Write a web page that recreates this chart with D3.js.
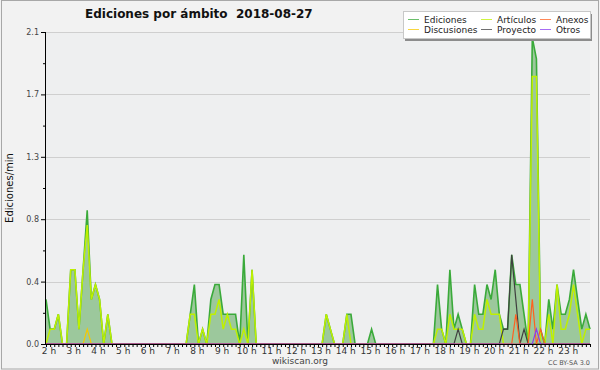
<!DOCTYPE html>
<html>
<head>
<meta charset="utf-8">
<script src="https://cdn.jsdelivr.net/npm/d3@7"></script>
<style>
  body { margin: 0; background: #f2f2f2; }
  svg { display: block; font-family: "DejaVu Sans", Verdana, sans-serif; }
</style>
</head>
<body>
<div id="chart"></div>
<script>
// one point every 10 minutes, from 2 h to 24 h
var startHour = 2, endHour = 24, stepsPerHour = 6;

var hourLabels = ["2 h","3 h","4 h","5 h","6 h","7 h","8 h","9 h","10 h","11 h","12 h",
  "13 h","14 h","15 h","16 h","17 h","18 h","19 h","20 h","21 h","22 h","23 h"];

var yTicks = [0, 0.42, 0.84, 1.26, 1.68, 2.1];

// ediciones / min, one row per hour
var ediciones = [
  0.3, 0.1, 0.1, 0.2, 0, 0,
  0.5, 0.5, 0.1, 0.5, 0.9, 0.3,
  0.4, 0.3, 0, 0.2, 0, 0,
  0, 0, 0, 0, 0, 0,
  0, 0, 0, 0, 0, 0,
  0, 0, 0, 0, 0, 0.2,
  0.4, 0, 0.1, 0, 0.3, 0.4,
  0.4, 0.2, 0.2, 0.2, 0.2, 0,
  0.6, 0, 0.5, 0, 0, 0,
  0, 0, 0, 0, 0, 0,
  0, 0, 0, 0, 0, 0,
  0, 0, 0.2, 0.1, 0, 0,
  0, 0.2, 0.2, 0, 0, 0,
  0, 0.1, 0, 0, 0, 0,
  0, 0, 0, 0, 0, 0,
  0, 0, 0, 0, 0, 0.4,
  0.1, 0, 0.5, 0.1, 0.2, 0.1,
  0, 0, 0.4, 0.2, 0.2, 0.4,
  0.3, 0.5, 0.2, 0.1, 0.1, 0.6,
  0.4, 0.4, 0.2, 0, 2.06, 1.92,
  0.1, 0, 0.3, 0.1, 0.4, 0.2,
  0.2, 0.3, 0.5, 0.3, 0.1, 0.2,
  0.1
];

var articulos = [
  0, 0.1, 0.1, 0.2, 0, 0,
  0.5, 0.5, 0.1, 0.5, 0.8, 0.3,
  0.4, 0.3, 0, 0.2, 0, 0,
  0, 0, 0, 0, 0, 0,
  0, 0, 0, 0, 0, 0,
  0, 0, 0, 0, 0, 0.2,
  0.2, 0, 0.1, 0, 0.2, 0.2,
  0.3, 0.1, 0.2, 0.1, 0.1, 0,
  0.1, 0, 0.5, 0, 0, 0,
  0, 0, 0, 0, 0, 0,
  0, 0, 0, 0, 0, 0,
  0, 0, 0.2, 0.1, 0, 0,
  0, 0.2, 0, 0, 0, 0,
  0, 0, 0, 0, 0, 0,
  0, 0, 0, 0, 0, 0,
  0, 0, 0, 0, 0, 0.1,
  0.1, 0, 0.2, 0.1, 0.1, 0.1,
  0, 0, 0.2, 0.1, 0.1, 0.3,
  0.2, 0.2, 0.2, 0, 0, 0,
  0, 0, 0, 0, 1.8, 1.8,
  0, 0, 0.2, 0, 0.4, 0.1,
  0.1, 0.2, 0.4, 0.2, 0, 0.1,
  0.1
];

var discusiones = [
  0, 0, 0, 0, 0, 0,
  0, 0, 0, 0, 0.1, 0,
  0, 0, 0, 0, 0, 0,
  0, 0, 0, 0, 0, 0,
  0, 0, 0, 0, 0, 0,
  0, 0, 0, 0, 0, 0,
  0, 0, 0, 0, 0, 0,
  0, 0, 0, 0, 0, 0,
  0, 0, 0, 0, 0, 0,
  0, 0, 0, 0, 0, 0,
  0, 0, 0, 0, 0, 0,
  0, 0, 0, 0, 0, 0,
  0, 0, 0, 0, 0, 0,
  0, 0, 0, 0, 0, 0,
  0, 0, 0, 0, 0, 0,
  0, 0, 0, 0, 0, 0,
  0, 0, 0, 0, 0, 0,
  0, 0, 0, 0, 0, 0,
  0, 0, 0, 0, 0, 0,
  0, 0, 0, 0, 0, 0,
  0, 0, 0, 0, 0, 0,
  0, 0, 0, 0, 0, 0,
  0
];

var anexos = [
  0, 0, 0, 0, 0, 0,
  0, 0, 0, 0, 0, 0,
  0, 0, 0, 0, 0, 0,
  0, 0, 0, 0, 0, 0,
  0, 0, 0, 0, 0, 0,
  0, 0, 0, 0, 0, 0,
  0, 0, 0, 0, 0, 0,
  0, 0, 0, 0, 0, 0,
  0, 0, 0, 0, 0, 0,
  0, 0, 0, 0, 0, 0,
  0, 0, 0, 0, 0, 0,
  0, 0, 0, 0, 0, 0,
  0, 0, 0, 0, 0, 0,
  0, 0, 0, 0, 0, 0,
  0, 0, 0, 0, 0, 0,
  0, 0, 0, 0, 0, 0,
  0, 0, 0, 0, 0, 0,
  0, 0, 0, 0, 0, 0,
  0, 0, 0, 0, 0, 0,
  0.2, 0, 0, 0, 0.3, 0,
  0.1, 0, 0, 0, 0, 0,
  0, 0, 0, 0, 0, 0,
  0
];

var proyecto = [
  0, 0, 0, 0, 0, 0,
  0, 0, 0, 0, 0, 0,
  0, 0, 0, 0, 0, 0,
  0, 0, 0, 0, 0, 0,
  0, 0, 0, 0, 0, 0,
  0, 0, 0, 0, 0, 0,
  0, 0, 0, 0, 0, 0,
  0, 0, 0, 0, 0, 0,
  0, 0, 0, 0, 0, 0,
  0, 0, 0, 0, 0, 0,
  0, 0, 0, 0, 0, 0,
  0, 0, 0, 0, 0, 0,
  0, 0, 0, 0, 0, 0,
  0, 0, 0, 0, 0, 0,
  0, 0, 0, 0, 0, 0,
  0, 0, 0, 0, 0, 0,
  0, 0, 0, 0, 0.1, 0,
  0, 0, 0, 0, 0, 0,
  0, 0, 0, 0.1, 0.1, 0.6,
  0.3, 0, 0.1, 0, 0, 0,
  0, 0, 0, 0, 0, 0,
  0, 0, 0, 0, 0, 0,
  0
];

var otros = [
  0, 0, 0, 0, 0, 0,
  0, 0, 0, 0, 0, 0,
  0, 0, 0, 0, 0, 0,
  0, 0, 0, 0, 0, 0,
  0, 0, 0, 0, 0, 0,
  0, 0, 0, 0, 0, 0,
  0, 0, 0, 0, 0, 0,
  0, 0, 0, 0, 0, 0,
  0, 0, 0, 0, 0, 0,
  0, 0, 0, 0, 0, 0,
  0, 0, 0, 0, 0, 0,
  0, 0, 0, 0, 0, 0,
  0, 0, 0, 0, 0, 0,
  0, 0, 0, 0, 0, 0,
  0, 0, 0, 0, 0, 0,
  0, 0, 0, 0, 0, 0,
  0, 0, 0, 0, 0, 0,
  0, 0, 0, 0, 0, 0,
  0, 0, 0, 0, 0, 0,
  0, 0, 0, 0, 0, 0.1,
  0, 0, 0, 0, 0, 0,
  0, 0, 0, 0, 0, 0,
  0
];

var series = [
  {name: "Ediciones",   values: ediciones,   color: "#3aaa3a", width: 1.6},
  {name: "Artículos",   values: articulos,   color: "#bff000", width: 1.5},
  {name: "Anexos",      values: anexos,      color: "#ff6020", width: 1.2},
  {name: "Discusiones", values: discusiones, color: "#f5c800", width: 1.2},
  {name: "Proyecto",    values: proyecto,    color: "#404040", width: 1.2},
  {name: "Otros",       values: otros,       color: "#8a3cf0", width: 1.2}
];

var W = 600, H = 370;
var margin = {top: 32, right: 10, bottom: 26, left: 46};
var width = W - margin.left - margin.right,
    height = H - margin.top - margin.bottom;

var svg = d3.select("#chart").append("svg")
  .attr("width", W)
  .attr("height", H);

svg.append("rect")
  .attr("x", 1.5).attr("y", 0.5)
  .attr("width", W - 3).attr("height", H - 1.5)
  .attr("fill", "#f2f2f2")
  .attr("stroke", "#a8a8a8");

var g = svg.append("g")
  .attr("transform", "translate(" + margin.left + "," + margin.top + ")");

var x = d3.scaleLinear().domain([startHour, endHour]).range([0, width]);
var y = d3.scaleLinear().domain([0, 2.1]).range([height, 0]);

function hourOf(i) { return startHour + i / stepsPerHour; }

g.append("rect")
  .attr("width", width).attr("height", height)
  .attr("fill", "#eeeff0");

// grid
g.selectAll(".grid")
  .data(yTicks)
  .enter().append("line")
  .attr("class", "grid")
  .attr("x1", 0).attr("x2", width)
  .attr("y1", function(d) { return Math.round(y(d)) + 0.5; })
  .attr("y2", function(d) { return Math.round(y(d)) + 0.5; })
  .attr("stroke", "#cfcfcf");

// area of Ediciones
var area = d3.area()
  .x(function(d, i) { return x(hourOf(i)); })
  .y0(y(0))
  .y1(function(d) { return y(d); });

g.append("path")
  .datum(ediciones)
  .attr("d", area)
  .attr("fill", "#9cc89c");

var line = d3.line()
  .x(function(d, i) { return x(hourOf(i)); })
  .y(function(d) { return y(d); });

// draw order: Ediciones, Articulos, then the small ones
var drawOrder = [0, 1, 3, 4, 2, 5];
drawOrder.forEach(function(k) {
  var s = series[k];
  g.append("path")
    .datum(s.values)
    .attr("d", line)
    .attr("fill", "none")
    .attr("stroke", s.color)
    .attr("stroke-width", s.width)
    .attr("stroke-linejoin", "miter");
});

// x axis: a tick every 10 minutes, labels on the hours
var minorX = d3.range(0, (endHour - startHour) * stepsPerHour + 1).map(hourOf);
var xMinor = g.append("g")
  .attr("transform", "translate(0," + height + ")")
  .call(d3.axisBottom(x).tickValues(minorX).tickSize(3).tickFormat(""));
xMinor.select(".domain").remove();
xMinor.selectAll("line").attr("stroke", "#000");

var xLab = g.append("g")
  .attr("transform", "translate(2.5," + height + ")")
  .call(d3.axisBottom(x)
    .tickValues(d3.range(startHour, endHour))
    .tickSize(0)
    .tickPadding(4)
    .tickFormat(function(d, i) { return hourLabels[i]; }));
xLab.select(".domain").remove();
xLab.selectAll("text")
  .attr("font-size", 9)
  .attr("font-family", "DejaVu Sans")
  .attr("fill", "#333");

// y axis
var midY = yTicks.slice(1).map(function(d, i) { return (d + yTicks[i]) / 2; });
var yMinor = g.append("g")
  .call(d3.axisLeft(y).tickValues(midY).tickSize(3).tickFormat(""));
yMinor.select(".domain").remove();

var yAxis = g.append("g")
  .call(d3.axisLeft(y).tickValues(yTicks).tickSize(5).tickPadding(2)
    .tickFormat(d3.format(".1f")));
yAxis.select(".domain").remove();
yAxis.selectAll("text")
  .attr("font-size", 8)
  .attr("font-family", "DejaVu Sans")
  .attr("fill", "#444");

// axis lines
g.append("line")
  .attr("x1", -0.5).attr("x2", -0.5)
  .attr("y1", 0).attr("y2", height)
  .attr("stroke", "#000");
g.append("line")
  .attr("x1", -0.5).attr("x2", width)
  .attr("y1", height + 0.5).attr("y2", height + 0.5)
  .attr("stroke", "#000");

// title
svg.append("text")
  .attr("x", 85).attr("y", 18)
  .attr("font-size", 12)
  .attr("font-weight", "bold")
  .attr("fill", "#111")
  .text("Ediciones por ámbito  2018-08-27")
  .attr("xml:space", "preserve");

// y label
svg.append("text")
  .attr("transform", "translate(13,188) rotate(-90)")
  .attr("text-anchor", "middle")
  .attr("font-size", 10)
  .attr("fill", "#111")
  .text("Ediciones/min");

// footer
svg.append("text")
  .attr("x", 300).attr("y", 364)
  .attr("text-anchor", "middle")
  .attr("font-size", 9)
  .attr("fill", "#444")
  .text("wikiscan.org");
svg.append("text")
  .attr("x", 590).attr("y", 364.5)
  .attr("text-anchor", "end")
  .attr("font-size", 6.5)
  .attr("fill", "#555")
  .text("CC BY-SA 3.0");

// legend
var leg = svg.append("g").attr("transform", "translate(403,11)");
leg.append("rect")
  .attr("x", 2).attr("y", 3)
  .attr("width", 187).attr("height", 27)
  .attr("fill", "#8c8c8c");
leg.append("rect")
  .attr("x", 0.5).attr("y", 0.5)
  .attr("width", 187).attr("height", 27)
  .attr("fill", "#fff")
  .attr("stroke", "#c8c8c8");

var legendOrder = [0, 1, 2, 3, 4, 5];
var colX = [5, 78, 137], rowY = [8, 18];
legendOrder.forEach(function(k, j) {
  var s = series[k];
  var cx = colX[j % 3], cy = rowY[Math.floor(j / 3)];
  leg.append("line")
    .attr("x1", cx).attr("x2", cx + 11)
    .attr("y1", cy + 0.5).attr("y2", cy + 0.5)
    .attr("stroke", s.color)
    .attr("stroke-opacity", 0.75)
    .attr("stroke-width", 1);
  leg.append("text")
    .attr("x", cx + 16).attr("y", cy + 3.5)
    .attr("font-size", 9)
    .attr("fill", "#222")
    .text(s.name);
});
</script>
</body>
</html>
